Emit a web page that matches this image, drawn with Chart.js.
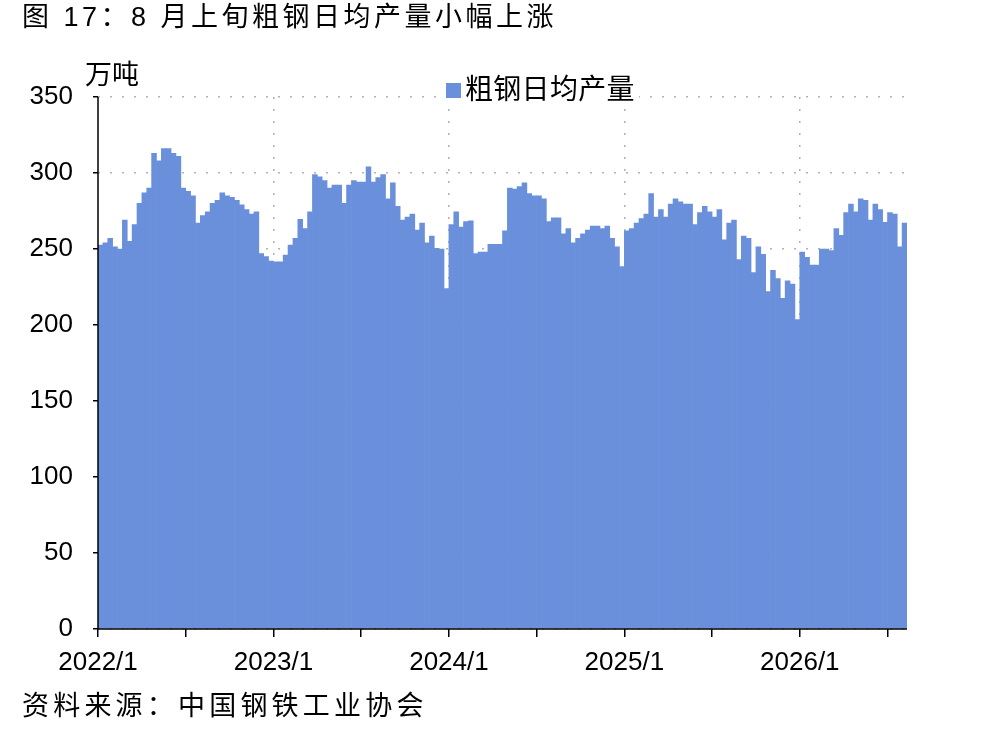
<!DOCTYPE html>
<html>
<head>
<meta charset="utf-8">
<script src="https://cdn.jsdelivr.net/npm/chart.js@4.4.1/dist/chart.umd.min.js"></script>
<style>
  html, body { margin: 0; padding: 0; background: #fff; }
  #wrap { position: relative; width: 983px; height: 731px; overflow: hidden; }
  #chart { position: absolute; left: 0; top: 0; }
  .txt { position: absolute; white-space: nowrap; color: #000; line-height: 1;
         font-family: "Liberation Sans", Arial, "Noto Sans CJK SC", sans-serif; }
  #title { left: 22px; top: 4px; font-size: 27px; letter-spacing: 3.5px; }
  #source { left: 22px; top: 693px; font-size: 27px; letter-spacing: 4.2px; }
  #unit { left: 85px; top: 62px; font-size: 27px; }
  #legend { left: 442px; top: 75px; font-size: 28px; letter-spacing: 0.3px; background: #fff;
            padding: 1px 4px; display: flex; align-items: center; }
  #legend i { display: inline-block; width: 15px; height: 15px; background: #6a90dc; margin-right: 4px; }
</style>
</head>
<body>
<div id="wrap">
  <canvas id="chart" width="983" height="731"></canvas>
  <div class="txt" id="title">图 17：8 月上旬粗钢日均产量小幅上涨</div>
  <div class="txt" id="unit">万吨</div>
  <div class="txt" id="legend"><i></i>粗钢日均产量</div>
  <div class="txt" id="source">资料来源：中国钢铁工业协会</div>
</div>
<script>
// 粗钢日均产量（万吨），每旬一个值
const years = [2022, 2023, 2024, 2025, 2026];
const v2022 = [252.5, 254, 257, 251.5, 250, 269, 255, 266, 280, 287, 290, 313,
               308, 316, 316, 313, 311, 290, 288, 285, 267, 272, 274.5, 280,
               282, 287, 285, 284, 282, 279, 276, 273, 274.5, 247, 245, 242];
const v2023 = [241.5, 241.5, 246, 252.5, 257, 269.5, 263.5, 274.5, 299, 297.5, 295, 290,
               292, 292, 280, 292, 295, 294, 294, 304, 294, 297, 299, 283,
               293.5, 278, 269, 271, 273, 262.5, 267, 254, 258.5, 250.5, 250, 224];
const v2024 = [266, 274.5, 264.5, 268, 268.5, 247, 248, 248, 253, 253, 253, 262,
               290, 289.5, 291, 293.5, 286.5, 285, 285, 283, 268, 270.5, 270.5, 260,
               263.5, 254, 257, 260, 262.5, 265, 265, 263.5, 265, 257, 251.5, 238.5];
const v2025 = [262, 263.5, 267, 270, 273, 286.5, 271, 276, 271, 279.5, 283, 281,
               279.5, 279.5, 266, 274, 278, 274.5, 271, 276, 256, 267, 269, 243,
               258.5, 257, 234.5, 251.5, 246.5, 222, 236, 230.5, 217.5, 229, 227, 203.5];
const v2026 = [248, 244.5, 239.5, 239.5, 250, 250, 249, 263.5, 259, 274, 279.5, 274.5,
               283, 282, 269, 279.5, 276, 267.5, 274, 273, 251.5, 267];
const xTickLabels = ['2022/1', '2023/1', '2024/1', '2025/1', '2026/1'];

const values = [].concat(v2022, v2023, v2024, v2025, v2026);

// one category per dekad, labelled by year/month
const labels = [];
[v2022, v2023, v2024, v2025, v2026].forEach((arr, k) => {
  arr.forEach((_, j) => {
    labels.push(years[k] + '/' + (Math.floor(j / 3) + 1));
  });
});
const n = labels.length;

const tickFont = { family: "'Liberation Sans', Arial, sans-serif", size: 26 };
const gridGrey = '#b2b2b2';
const none = 'rgba(0,0,0,0)';

// black axis lines drawn on top of the bars
const axisLines = {
  id: 'axisLines',
  afterDatasetsDraw(chart) {
    const { ctx, chartArea: a } = chart;
    ctx.save();
    ctx.strokeStyle = '#000';
    ctx.lineWidth = 1.5;
    ctx.beginPath();
    ctx.moveTo(a.left, a.top);
    ctx.lineTo(a.left, a.bottom);
    ctx.lineTo(a.right, a.bottom);
    ctx.stroke();
    ctx.restore();
  }
};

new Chart(document.getElementById('chart'), {
  type: 'bar',
  data: {
    labels: labels,
    datasets: [{
      label: '粗钢日均产量',
      data: values,
      backgroundColor: '#6a90dc',
      borderWidth: 0,
      barPercentage: 1,
      categoryPercentage: 1
    }]
  },
  options: {
    responsive: false,
    animation: false,
    devicePixelRatio: 1,
    layout: { padding: { left: 0, top: 97, right: 76, bottom: 0 } },
    plugins: { legend: { display: false }, tooltip: { enabled: false } },
    scales: {
      x: {
        offset: true,
        grid: {
          offset: true,
          color: c => (c.index % 36 === 0 && c.index > 0 && c.index < n) ? gridGrey : none,
          lineWidth: 1.5,
          tickLength: 8,
          tickWidth: 1.5,
          tickColor: c => (c.index % 18 === 0 && c.index < n) ? '#000' : none
        },
        border: { display: false, dash: [2, 10] },
        ticks: {
          autoSkip: false,
          maxRotation: 0,
          minRotation: 0,
          labelOffset: -2.4,
          padding: 10,
          color: '#000',
          font: tickFont,
          callback: (v, i) => (i % 36 === 0 ? xTickLabels[i / 36] : '')
        },
        afterFit: s => { s.height = 102; }
      },
      y: {
        min: 0,
        max: 350,
        ticks: { stepSize: 50, padding: 20, color: '#000', font: tickFont },
        grid: {
          color: gridGrey,
          lineWidth: 1.5,
          tickLength: 5,
          tickWidth: 1.5,
          tickColor: '#000'
        },
        border: { display: false, dash: [2, 10] },
        afterFit: s => { s.width = 98; }
      }
    }
  },
  plugins: [axisLines]
});
</script>
</body>
</html>
